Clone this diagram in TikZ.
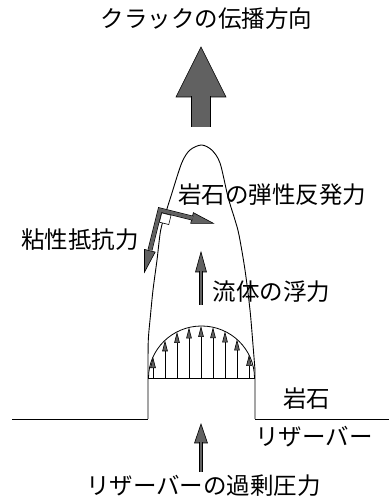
\documentclass[tikz,border=0pt]{standalone}
\usepackage{fontspec}
\newfontfamily\jpfont{Noto Sans CJK JP}
\usetikzlibrary{calc,arrows.meta}

\tikzset{
  jtext/.style={font=\jpfont\fontsize{23.5}{28}\selectfont, inner sep=0pt},
  wall/.style={line width=0.9pt},
  fatshaft/.style={draw=black, line width=0.6pt, double=black!62, line join=miter},
  fathead/.style={draw=black, line width=0.6pt, fill=black!62, line join=miter},
  press/.style={line width=0.6pt, -{Triangle[length=11pt, width=5.5pt, fill=black!62]}}
}

% fat force arrow: tail, tip, shaft width, head half width, head length
\newcommand{\fatarrow}[5]{%
  \coordinate (hb) at ($#2!#5!#1$);
  \draw[fathead] ($(hb)!#4!90:#2$) -- #2 -- ($(hb)!#4!-90:#2$) -- cycle;
  \draw[fatshaft, double distance=#3] #1 -- ($(hb)!-0.8pt!#1$);
}

\begin{document}
\begin{tikzpicture}[x=1pt, y=1pt]
  \useasboundingbox (0,0) rectangle (389,503);

  % ===== ROCK SURFACE =====
  \draw[wall] (12,84) -- (148,84);
  \draw[wall] (255,84) -- (389,84);

  % ===== CRACK OUTLINE =====
  \draw[wall] (148,84) -- plot[smooth] coordinates {(148,133) (148.3,163) (150.5,188)
      (153,213) (157,243) (160.7,273) (166,291) (170.7,306) (181.7,340) (190,353)
      (201.5,358) (211.7,353) (220,340) (228,306) (235,283) (239,268) (245,233)
      (250,193) (253,158) (255,133)} -- (255,84);

  % ===== OVERPRESSURE PROFILE AT THE CRACK BASE =====
  \draw[wall] (148,125) -- (255,125);
  \draw[line width=0.8pt] (148.5,125) arc[start angle=180, end angle=0, x radius=53, y radius=52];
  \foreach \i in {0,...,8} {
    \pgfmathsetmacro{\xa}{153+12*\i}
    \pgfmathsetmacro{\ua}{(\xa-201.5)/53}
    \pgfmathsetmacro{\ya}{125+52*sqrt(1-\ua*\ua)}
    \draw[press] (\xa,125) -- (\xa,\ya);
  }

  % ===== FORCES =====
  % propagation direction
  \fatarrow{(201,376)}{(201,456)}{18.8pt}{25pt}{50pt}
  % buoyancy
  \fatarrow{(201,198)}{(201,251)}{2.6pt}{5.5pt}{20pt}
  % reservoir overpressure
  \fatarrow{(201,31)}{(201,79)}{2.8pt}{6.5pt}{19pt}

  % viscous drag along the wall + elastic reaction of the rock
  \begin{scope}[shift={(160,293)}, rotate=-14]
    \draw[fathead] (5.5,-42) -- (0,-64) -- (-5.5,-42) -- cycle;
    \draw[fathead] (33,5.5) -- (55,0) -- (33,-5.5) -- cycle;
    \draw[fatshaft, double distance=3.6pt] (0,-41.2) -- (0,0) -- (33.8,0);
    \draw[line width=0.6pt, fill=white] (2.4,-2.4) -- (12,-2.4) -- (12,-12) -- (2.4,-12) -- cycle;
  \end{scope}

  % ===== LABELS =====
  \node[jtext] (title)    at (206.5,484) {クラックの伝播方向};
  \node[jtext] (elastic)  at (272,308)   {岩石の弾性反発力};
  \node[jtext] (viscous)  at (80,263)    {粘性抵抗力};
  \node[jtext] (buoyancy) at (271.5,211) {流体の浮力};
  \node[jtext] (rock)     at (306.5,104) {岩石};
  \node[jtext] (resv)     at (314,66)    {リザーバー};
  \node[jtext] (overp)    at (203.5,17)  {リザーバーの過剰圧力};
\end{tikzpicture}
\end{document}
